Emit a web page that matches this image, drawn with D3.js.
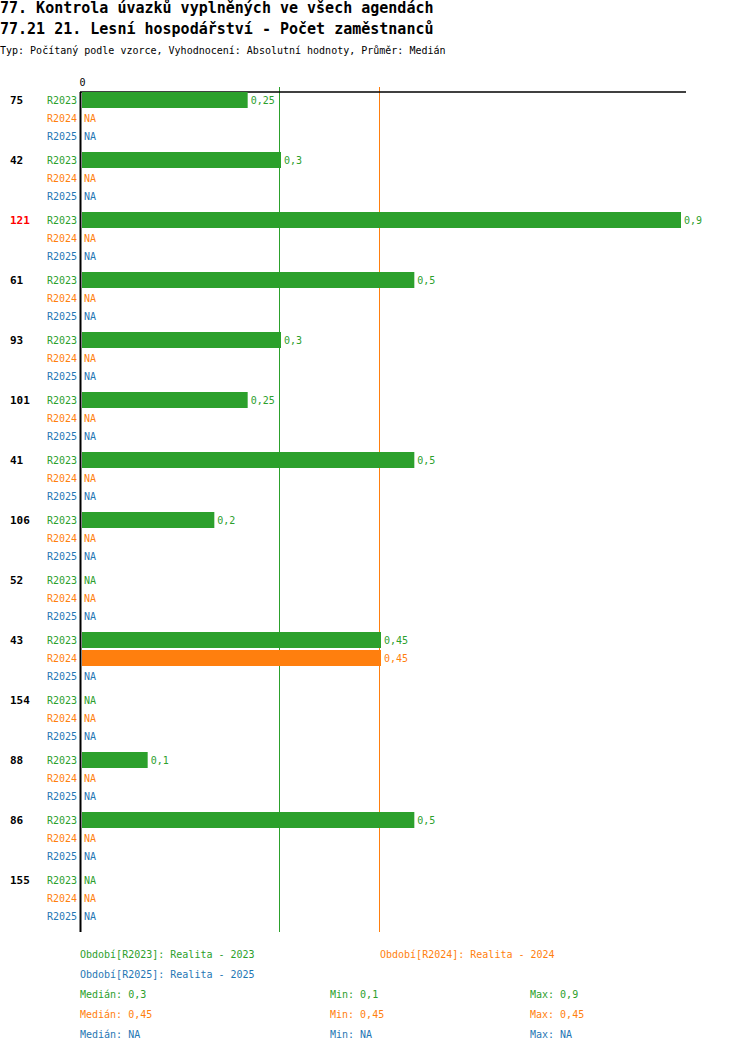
<!DOCTYPE html>
<html>
<head>
<meta charset="utf-8">
<script src="https://cdn.jsdelivr.net/npm/d3@7"></script>
<style>
  body { margin: 0; background: #fff; }
  svg { display: block; font-family: "DejaVu Sans Mono", "Liberation Mono", monospace; }
</style>
</head>
<body>
<svg width="750" height="1052"></svg>
<script>
const titleLines = [
    "77. Kontrola úvazků vyplněných ve všech agendách",
    "77.21 21. Lesní hospodářství - Počet zaměstnanců"
];
const subtitle = "Typ: Počítaný podle vzorce, Vyhodnocení: Absolutní hodnoty, Průměr: Medián";

const groups = ["75", "42", "121", "61", "93", "101", "41", "106", "52", "43", "154", "88", "86", "155"];
const highlighted = ["121"];
const seriesNames = ["R2023", "R2024", "R2025"];
const seriesTitles = ["Realita - 2023", "Realita - 2024", "Realita - 2025"];
const seriesColors = ["#2ca02c", "#ff7f0e", "#1f77b4"];

const valuesR2023 = [0.25, 0.3, 0.9, 0.5, 0.3, 0.25, 0.5, 0.2, null, 0.45, null, 0.1, 0.5, null];
const valuesR2024 = [null, null, null, null, null, null, null, null, null, 0.45, null, null, null, null];
const valuesR2025 = [null, null, null, null, null, null, null, null, null, null, null, null, null, null];
const seriesValues = [valuesR2023, valuesR2024, valuesR2025];

const locale = d3.formatLocale({ decimal: ",", thousands: " ", grouping: [3], currency: ["", ""] });
const fmt = (v) => (v == null ? "NA" : locale.format("~g")(v));

const svg = d3.select("svg");

// titles
svg.selectAll(".title")
    .data(titleLines)
    .enter()
    .append("text")
    .attr("x", 0)
    .attr("y", (d, i) => 13 + i * 21)
    .style("font-size", "15px")
    .style("font-weight", "bold")
    .text((d) => d);

svg.append("text")
    .attr("x", 0)
    .attr("y", 54)
    .style("font-size", "10px")
    .text(subtitle);

// scales
const scaleX = d3.scaleLinear().domain([0, 0.9]).range([81, 681]);
const groupY = (i) => 100 + i * 60;
const rowStep = 18;
const plotTop = 92;
const plotBottom = 932;

// median lines
const medians = seriesValues.map((vals) => d3.median(vals.filter((v) => v != null)));
medians.forEach((m, s) => {
    if (m == null) return;
    svg.append("line")
        .attr("x1", scaleX(m) - 1.5)
        .attr("x2", scaleX(m) - 1.5)
        .attr("y1", plotTop - 5)
        .attr("y2", plotBottom)
        .style("stroke", seriesColors[s])
        .style("stroke-width", 1);
});

// top axis
const axisTop = d3.axisTop(scaleX).tickValues([0]).tickSize(0).tickPadding(6).tickFormat(fmt);
const gAxis = svg.append("g")
    .attr("transform", `translate(0, ${plotTop})`)
    .call(axisTop);
gAxis.select(".domain").remove();
gAxis.selectAll("text").style("font-size", "10px").style("font-family", "DejaVu Sans Mono").attr("dx", "0.1em");

svg.append("line")
    .attr("x1", 80).attr("x2", 686)
    .attr("y1", plotTop).attr("y2", plotTop)
    .style("stroke", "#000").style("stroke-width", 1.5);

svg.append("line")
    .attr("x1", 80.5).attr("x2", 80.5)
    .attr("y1", plotTop).attr("y2", plotBottom)
    .style("stroke", "#000").style("stroke-width", 2);

// group labels
svg.selectAll(".glabel")
    .data(groups)
    .enter()
    .append("text")
    .attr("x", 10)
    .attr("y", (d, i) => groupY(i))
    .attr("dy", "0.35em")
    .style("font-size", "11px")
    .style("font-weight", "bold")
    .style("fill", (d) => (highlighted.includes(d) ? "#ff0000" : "#000"))
    .text((d) => d);

// series rows
seriesNames.forEach((name, s) => {
    const rows = groups.map((g, i) => ({ g: g, i: i, v: seriesValues[s][i] }));
    const color = seriesColors[s];
    const y = (d) => groupY(d.i) + s * rowStep;

    svg.selectAll(`.slabel-${s}`)
        .data(rows)
        .enter()
        .append("text")
        .attr("x", 77)
        .attr("y", y)
        .attr("dy", "0.35em")
        .attr("text-anchor", "end")
        .style("font-size", "10px")
        .style("fill", color)
        .text(name);

    svg.selectAll(`.bar-${s}`)
        .data(rows.filter((d) => d.v != null))
        .enter()
        .append("rect")
        .attr("x", 82)
        .attr("y", (d) => y(d) - 8)
        .attr("width", (d) => scaleX(d.v) - 82)
        .attr("height", 16)
        .style("fill", color);

    svg.selectAll(`.vlabel-${s}`)
        .data(rows)
        .enter()
        .append("text")
        .attr("x", (d) => (d.v == null ? 84 : scaleX(d.v) + 3))
        .attr("y", y)
        .attr("dy", "0.35em")
        .style("font-size", "10px")
        .style("fill", color)
        .text((d) => fmt(d.v));
});

// legend
const legendPos = [[80, 954], [380, 954], [80, 974]];
seriesNames.forEach((name, s) => {
    svg.append("text")
        .attr("x", legendPos[s][0])
        .attr("y", legendPos[s][1])
        .attr("dy", "0.35em")
        .style("font-size", "10px")
        .style("fill", seriesColors[s])
        .text(`Období[${name}]: ${seriesTitles[s]}`);
});

const statCols = [80, 330, 530];
seriesNames.forEach((name, s) => {
    const vals = seriesValues[s].filter((v) => v != null);
    const stats = [
        ["Medián", d3.median(vals)],
        ["Min", d3.min(vals)],
        ["Max", d3.max(vals)]
    ];
    stats.forEach((st, c) => {
        svg.append("text")
            .attr("x", statCols[c])
            .attr("y", 994 + s * 20)
            .attr("dy", "0.35em")
            .style("font-size", "10px")
            .style("fill", seriesColors[s])
            .text(`${st[0]}: ${fmt(st[1])}`);
    });
});
</script>
</body>
</html>
